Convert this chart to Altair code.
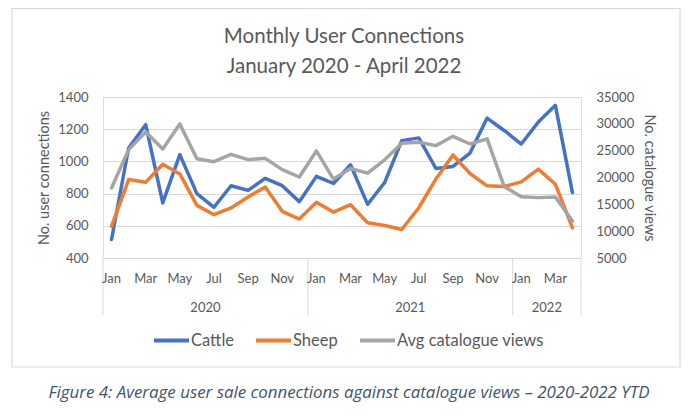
import altair as alt
import pandas as pd

months = ["Jan", "Feb", "Mar", "Apr", "May", "Jun", "Jul", "Aug", "Sep", "Oct", "Nov", "Dec"]
years = [2020] * 12 + [2021] * 12 + [2022] * 4
month_names = months * 2 + months[:4]

cattle = [515, 1083, 1228, 742, 1042, 800, 715, 849, 820, 895, 849, 750,
          907, 863, 979, 733, 869, 1129, 1146, 956, 969, 1052, 1269, 1192,
          1108, 1244, 1348, 806]
sheep = [597, 887, 870, 982, 922, 727, 669, 711, 779, 841, 690, 642,
         746, 685, 731, 619, 602, 577, 712, 890, 1040, 925, 848, 844,
         873, 952, 858, 587]
views = [18050, 25190, 28490, 25310, 29960, 23510, 22940, 24320, 23330, 23570, 21470, 20090,
         24950, 19700, 21680, 20810, 23300, 26360, 26570, 25940, 27680, 26240, 27200, 18320,
         16430, 16250, 16370, 11870]

series_names = ["Cattle", "Sheep", "Avg catalogue views"]
series_colors = ["#4472C4", "#ED7D31", "#A5A5A5"]

left_ticks = [400, 600, 800, 1000, 1200, 1400]
right_ticks = [5000, 10000, 15000, 20000, 25000, 30000, 35000]

title_lines = ["Monthly User Connections", "January 2020 - April 2022"]
caption = "Figure 4: Average user sale connections against catalogue views \u2013 2020-2022 YTD"

n = len(month_names)
idx = list(range(n))
df = pd.DataFrame({"idx": idx, "month": month_names, "year": years})

long_left = pd.concat([
    pd.DataFrame({"idx": idx, "series": "Cattle", "value": cattle}),
    pd.DataFrame({"idx": idx, "series": "Sheep", "value": sheep}),
])
long_right = pd.DataFrame({"idx": idx, "series": "Avg catalogue views", "value": views})

month_lab = df[df["idx"] % 2 == 0][["idx", "month"]]
year_groups = df.groupby("year")["idx"].agg(["min", "max"]).reset_index()
year_groups["center"] = (year_groups["min"] + year_groups["max"]) / 2
seps = pd.DataFrame({"b": [-0.5] + [float(v) + 0.5 for v in year_groups["max"]]})

W, H = 478, 161
GREY = "#595959"
FONT = "Lato"

xscale = alt.Scale(domain=[-0.5, n - 0.5], nice=False, zero=False)
color = alt.Color("series:N",
                  scale=alt.Scale(domain=series_names, range=series_colors),
                  legend=alt.Legend(title=None, orient="none", direction="horizontal",
                                    legendX=49, legendY=224,
                                    symbolType="stroke", symbolSize=1225,
                                    symbolStrokeWidth=4, labelFontSize=16.5,
                                    labelColor=GREY, labelFont=FONT,
                                    columnPadding=14, labelOffset=0))

left_axis = alt.Axis(orient="left", values=left_ticks, grid=True, gridColor="#D9D9D9",
                     domain=False, ticks=False, labelPadding=15, labelOverlap=False,
                     format="d", tickCount=6,
                     labelFontSize=13, labelColor=GREY, labelFont=FONT,
                     title="No. user connections", titleFontSize=14.5,
                     titleColor=GREY, titleFont=FONT, titleFontWeight="normal",
                     titlePadding=6)
left_scale = alt.Scale(domain=[400, 1400], nice=False, zero=False)

yright = alt.Y("value:Q",
               scale=alt.Scale(domain=[5000, 35000], nice=False, zero=False),
               axis=alt.Axis(orient="right", values=right_ticks, grid=False,
                             domain=False, ticks=False, labelPadding=15, labelOverlap=False,
                             format="d",
                             labelFontSize=13, labelColor=GREY, labelFont=FONT,
                             title="No. catalogue views", titleFontSize=14.5,
                             titleColor=GREY, titleFont=FONT, titleFontWeight="normal",
                             titlePadding=8))

x = alt.X("idx:Q", scale=xscale, axis=None)

border = alt.Chart(pd.DataFrame({"a": [0]})).mark_rect(
    fill="white", fillOpacity=0, stroke="#D9D9D9", strokeWidth=1.2
).encode(x=alt.value(-91), x2=alt.value(577), y=alt.value(-88.5), y2=alt.value(270))

title1 = alt.Chart(pd.DataFrame({"t": [title_lines[0]]})).mark_text(
    fontSize=20.5, color=GREY, font=FONT, baseline="alphabetic", align="center"
).encode(x=alt.value(241), y=alt.value(-54), text="t:N")
title2 = alt.Chart(pd.DataFrame({"t": [title_lines[1]]})).mark_text(
    fontSize=20.5, color=GREY, font=FONT, baseline="alphabetic", align="center"
).encode(x=alt.value(241), y=alt.value(-24), text="t:N")

left_lines = alt.Chart(long_left).mark_line(
    strokeWidth=3.5, strokeCap="round", strokeJoin="round"
).encode(x=x, y=alt.Y("value:Q", scale=left_scale, axis=left_axis), color=color,
         order=alt.Order("idx:Q"))

sep_rules = alt.Chart(seps).mark_rule(color="#D9D9D9", strokeWidth=1).encode(
    x=alt.X("b:Q", scale=xscale, axis=None), y=alt.value(H), y2=alt.value(H + 57))

month_text = alt.Chart(month_lab).mark_text(
    fontSize=13, color=GREY, font=FONT, baseline="middle"
).encode(x=alt.X("idx:Q", scale=xscale, axis=None), y=alt.value(H + 21), text="month:N")

year_text = alt.Chart(year_groups).mark_text(
    fontSize=13, color=GREY, font=FONT, baseline="middle"
).encode(x=alt.X("center:Q", scale=xscale, axis=None), y=alt.value(H + 50), text="year:N")

caption_text = alt.Chart(pd.DataFrame({"t": [caption]})).mark_text(
    fontSize=16.9, color="#44546A", font="Open Sans", fontStyle="italic",
    baseline="alphabetic", align="center"
).encode(x=alt.value(246), y=alt.value(301), text="t:N")

left_layer = alt.layer(left_lines, border, title1, title2, sep_rules, month_text, year_text,
                       caption_text)

views_line = alt.Chart(long_right).mark_line(
    strokeWidth=3.5, strokeCap="round", strokeJoin="round"
).encode(x=x, y=yright, color=color)

chart = alt.layer(left_layer, views_line).resolve_scale(y="independent").properties(
    width=W, height=H,
    autosize=alt.AutoSizeParams(type="none"),
    padding={"left": 95, "top": 89, "right": 111, "bottom": 150},
).configure_view(stroke=None).configure(background="white")

chart.save("out.html", embed_options={"renderer": "svg", "actions": False})
